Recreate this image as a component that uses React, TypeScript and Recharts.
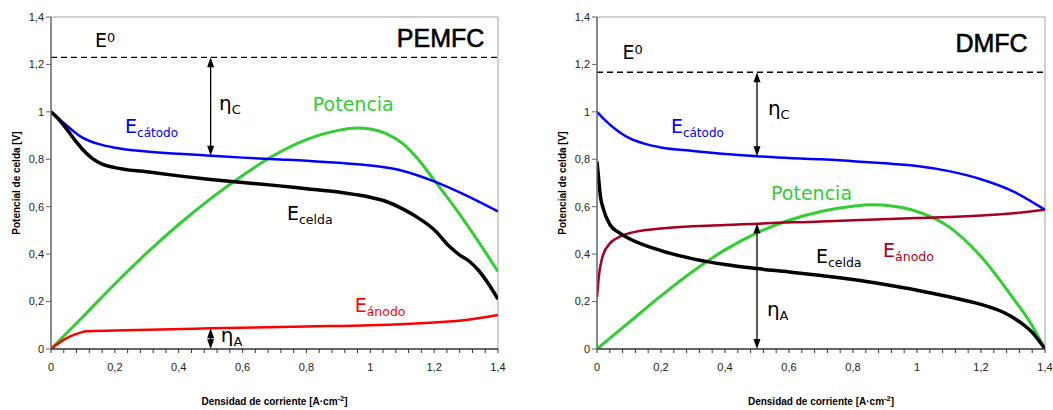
import React from 'react';
import { LineChart, Line, XAxis, YAxis, ReferenceLine, ReferenceDot } from 'recharts';

type P = [number, number];

// ---------- PEMFC ----------
const pemCathode: P[] = [
  [0, 1.0], [0.025, 0.97], [0.05, 0.942], [0.075, 0.913], [0.1, 0.89], [0.125, 0.875], [0.15, 0.864],
  [0.2, 0.849], [0.3, 0.833], [0.4, 0.823], [0.5, 0.815], [0.6, 0.807], [0.7, 0.8], [0.8, 0.794],
  [0.9, 0.785], [1.0, 0.774], [1.1, 0.752], [1.2, 0.707], [1.3, 0.648], [1.4, 0.58],
];
const pemCell: P[] = [
  [0, 1.0], [0.02, 0.975], [0.05, 0.926], [0.08, 0.872], [0.1, 0.84], [0.13, 0.803], [0.16, 0.78],
  [0.2, 0.765], [0.3, 0.747], [0.4, 0.73], [0.5, 0.715], [0.6, 0.702], [0.7, 0.69], [0.8, 0.676],
  [0.9, 0.662], [0.95, 0.652], [1.0, 0.64], [1.05, 0.622], [1.1, 0.592], [1.15, 0.553], [1.2, 0.503],
  [1.25, 0.43], [1.28, 0.396], [1.31, 0.37], [1.34, 0.33], [1.37, 0.275], [1.4, 0.21],
];
const pemPower: P[] = [
  [0, 0], [0.1, 0.136], [0.2, 0.274], [0.3, 0.405], [0.4, 0.525], [0.5, 0.634], [0.6, 0.732],
  [0.7, 0.818], [0.8, 0.883], [0.9, 0.922], [0.96, 0.932], [1.0, 0.928], [1.05, 0.908], [1.1, 0.868],
  [1.15, 0.8], [1.2, 0.712], [1.25, 0.624], [1.3, 0.53], [1.35, 0.43], [1.4, 0.327],
];
const pemAnode: P[] = [
  [0, 0], [0.03, 0.03], [0.06, 0.053], [0.09, 0.068], [0.11, 0.075], [0.2, 0.078], [0.5, 0.087],
  [0.8, 0.095], [1.0, 0.1], [1.2, 0.112], [1.3, 0.122], [1.4, 0.143],
];
const pemE0 = 1.23;
const pemCathodeAt05 = 0.815;
const pemAnodeAt05 = 0.087;

// ---------- DMFC ----------
const dmCathode: P[] = [
  [0, 1.0], [0.025, 0.965], [0.05, 0.935], [0.075, 0.91], [0.1, 0.89], [0.15, 0.865], [0.2, 0.85],
  [0.3, 0.835], [0.4, 0.822], [0.5, 0.813], [0.6, 0.805], [0.7, 0.8], [0.8, 0.792], [0.9, 0.783],
  [1.0, 0.772], [1.1, 0.75], [1.2, 0.716], [1.3, 0.665], [1.4, 0.587],
];
const dmCell: P[] = [
  [0, 0.79], [0.005, 0.72], [0.01, 0.65], [0.02, 0.59], [0.04, 0.525], [0.07, 0.49], [0.1, 0.466],
  [0.2, 0.415], [0.3, 0.38], [0.4, 0.356], [0.5, 0.339], [0.6, 0.325], [0.7, 0.31], [0.8, 0.293],
  [0.9, 0.272], [1.0, 0.248], [1.1, 0.22], [1.2, 0.188], [1.27, 0.155], [1.32, 0.115], [1.36, 0.07],
  [1.4, 0],
];
const dmPower: P[] = [
  [0, 0], [0.1, 0.112], [0.2, 0.224], [0.3, 0.328], [0.4, 0.418], [0.5, 0.49], [0.6, 0.543],
  [0.7, 0.58], [0.8, 0.602], [0.86, 0.608], [0.92, 0.603], [1.0, 0.58], [1.1, 0.515], [1.2, 0.39],
  [1.3, 0.215], [1.35, 0.12], [1.4, 0],
];
const dmAnode: P[] = [
  [0, 0.22], [0.004, 0.28], [0.008, 0.33], [0.012, 0.36], [0.02, 0.4], [0.04, 0.445], [0.07, 0.473],
  [0.1, 0.488], [0.2, 0.508], [0.4, 0.523], [0.7, 0.538], [1.0, 0.552], [1.2, 0.563], [1.3, 0.572],
  [1.4, 0.587],
];
const dmE0 = 1.167;
const dmCathodeAt05 = 0.813;
const dmAnodeAt05 = 0.53;

// ---------- axes ----------
const yTicks = [0, 0.2, 0.4, 0.6, 0.8, 1, 1.2, 1.4];
const xMajorTicks = [0, 0.2, 0.4, 0.6, 0.8, 1, 1.2, 1.4];
const xMinorStep = 0.04;
const xTicks = Array.from({ length: Math.round(1.4 / xMinorStep) + 1 }, (_, i) => +(i * xMinorStep).toFixed(2));
const xTitle = 'Densidad de corriente [A·cm';
const xTitleSup = '-2';
const xTitleEnd = ']';
const yTitle = 'Potencial de celda [V]';

const fmt = (v: number) => String(Math.round(v * 10) / 10).replace('.', ',');
const isMajor = (v: number) => xMajorTicks.some((m) => Math.abs(m - v) < 1e-6);

// ---------- annotations ----------
type Ann = { x: number; y: number; main: string; sub?: string; sup?: string; color: string; size: number; subSize?: number; kind?: 'title' };

const pemAnn: Ann[] = [
  { x: 0.138, y: 1.275, main: 'E', sup: '0', color: '#000', size: 19 },
  { x: 1.083, y: 1.275, main: 'PEMFC', color: '#000', size: 25, kind: 'title' },
  { x: 0.526, y: 1.009, main: 'η', sub: 'C', color: '#000', size: 20, subSize: 13 },
  { x: 0.82, y: 1.005, main: 'Potencia', color: '#33cc33', size: 19 },
  { x: 0.232, y: 0.912, main: 'E', sub: 'cátodo', color: '#0000ff', size: 19, subSize: 12 },
  { x: 0.739, y: 0.545, main: 'E', sub: 'celda', color: '#000', size: 19, subSize: 12.5 },
  { x: 0.951, y: 0.157, main: 'E', sub: 'ánodo', color: '#ff0000', size: 19, subSize: 12.5 },
  { x: 0.532, y: 0.031, main: 'η', sub: 'A', color: '#000', size: 20, subSize: 13 },
];
const dmAnn: Ann[] = [
  { x: 0.08, y: 1.224, main: 'E', sup: '0', color: '#000', size: 19 },
  { x: 1.12, y: 1.254, main: 'DMFC', color: '#000', size: 25, kind: 'title' },
  { x: 0.534, y: 0.988, main: 'η', sub: 'C', color: '#000', size: 20, subSize: 13 },
  { x: 0.231, y: 0.912, main: 'E', sub: 'cátodo', color: '#0000ff', size: 19, subSize: 12 },
  { x: 0.544, y: 0.63, main: 'Potencia', color: '#33cc33', size: 19 },
  { x: 0.684, y: 0.364, main: 'E', sub: 'celda', color: '#000', size: 19, subSize: 12.5 },
  { x: 0.894, y: 0.389, main: 'E', sub: 'ánodo', color: '#a50021', size: 19, subSize: 12.5 },
  { x: 0.531, y: 0.14, main: 'η', sub: 'A', color: '#000', size: 20, subSize: 13 },
];

const toData = (pts: P[]) => pts.map(([x, y]) => ({ x, y }));

const ANN_FONT = "'DejaVu Sans', Verdana, sans-serif";
const AX_FONT = "'Liberation Sans', Arial, sans-serif";

const AnnText = ({ cx, cy, a }: { cx: number; cy: number; a: Ann }) => {
  if (a.kind === 'title') {
    return (
      <text x={cx} y={cy} fill={a.color} stroke={a.color} strokeWidth={0.6} fontSize={a.size} fontFamily={AX_FONT}>
        {a.main}
      </text>
    );
  }
  return (
    <text x={cx} y={cy} fill={a.color} fontSize={a.size} fontFamily={ANN_FONT}>
      <tspan>{a.main}</tspan>
      {a.sub ? <tspan dy={4} fontSize={a.subSize}>{a.sub}</tspan> : null}
      {a.sup ? <tspan dy={-5} fontSize={13}>{a.sup}</tspan> : null}
    </text>
  );
};

const DoubleArrow = (props: any) => {
  const { x1, y1, x2, y2 } = props;
  const x = x1 ?? x2;
  const top = Math.min(y1, y2);
  const bot = Math.max(y1, y2);
  const len = bot - top;
  const h = Math.min(10, len / 2.1);
  const w = 3.5;
  return (
    <g>
      <line x1={x} y1={top + h - 1} x2={x} y2={bot - h + 1} stroke="#000" strokeWidth={1.3} />
      <polygon points={`${x},${top} ${x - w},${top + h} ${x + w},${top + h}`} fill="#000" />
      <polygon points={`${x},${bot} ${x - w},${bot - h} ${x + w},${bot - h}`} fill="#000" />
    </g>
  );
};

type Cfg = {
  cathode: P[]; cell: P[]; power: P[]; anode: P[]; anodeColor: string;
  e0: number; cathodeAt05: number; anodeAt05: number; ann: Ann[];
  yAxisWidth: number; marginRight: number;
};

const Panel = ({ c }: { c: Cfg }) => (
  <LineChart width={520} height={410} margin={{ top: 17, right: c.marginRight, bottom: 0, left: 0 }}>
    <XAxis
      type="number"
      dataKey="x"
      domain={[0, 1.4]}
      ticks={xTicks}
      interval={0}
      tickFormatter={(v: number) => (isMajor(v) ? fmt(v) : '')}
      tickSize={4}
      tickMargin={10}
      height={61}
      axisLine={{ stroke: '#333', strokeWidth: 1.5 }}
      tickLine={{ stroke: '#333', strokeWidth: 1 }}
      tick={{ fontSize: 11, fill: '#222', fontFamily: AX_FONT }}
      allowDataOverflow
      label={(p: any) => {
        const vb = p.viewBox;
        return (
          <text x={vb.x + vb.width / 2} y={vb.y + 56} textAnchor="middle" fontSize={10} fontWeight="bold" fontFamily={AX_FONT} fill="#000">
            {xTitle}
            <tspan dy={-4} fontSize={7.5}>{xTitleSup}</tspan>
            <tspan dy={4}>{xTitleEnd}</tspan>
          </text>
        );
      }}
    />
    <YAxis
      type="number"
      domain={[0, 1.4]}
      ticks={yTicks}
      interval={0}
      tickFormatter={fmt}
      width={c.yAxisWidth}
      tickSize={5}
      axisLine={{ stroke: '#666', strokeWidth: 1.5 }}
      tickLine={{ stroke: '#666', strokeWidth: 1 }}
      tick={{ fontSize: 11, fill: '#222', fontFamily: AX_FONT }}
      allowDataOverflow
      label={(p: any) => {
        const vb = p.viewBox;
        const cx = vb.x + vb.width - 35;
        const cy = vb.y + vb.height / 2;
        return (
          <text x={cx} y={cy} transform={`rotate(-90 ${cx} ${cy})`} textAnchor="middle" dominantBaseline="central" fontSize={10} fontWeight="bold" fontFamily={AX_FONT} fill="#000">
            {yTitle}
          </text>
        );
      }}
    />
    <ReferenceLine y={1.4} stroke="#c0c0c0" strokeWidth={1.5} />
    <ReferenceLine x={1.4} stroke="#c0c0c0" strokeWidth={1.5} />
    <ReferenceLine y={c.e0} stroke="#000" strokeWidth={1.3} strokeDasharray="6 4" />
    <Line data={toData(c.power)} dataKey="y" type="monotone" stroke="#33cc33" strokeWidth={3} dot={false} isAnimationActive={false} />
    <Line data={toData(c.anode)} dataKey="y" type="monotone" stroke={c.anodeColor} strokeWidth={2.5} dot={false} isAnimationActive={false} />
    <Line data={toData(c.cathode)} dataKey="y" type="monotone" stroke="#0000ff" strokeWidth={2.5} dot={false} isAnimationActive={false} />
    <Line data={toData(c.cell)} dataKey="y" type="monotone" stroke="#000" strokeWidth={3.5} dot={false} isAnimationActive={false} />
    <ReferenceLine segment={[{ x: 0.5, y: c.e0 }, { x: 0.5, y: c.cathodeAt05 }]} shape={(p: any) => <DoubleArrow {...p} />} />
    <ReferenceLine segment={[{ x: 0.5, y: c.anodeAt05 }, { x: 0.5, y: 0 }]} shape={(p: any) => <DoubleArrow {...p} />} />
    {c.ann.map((a, i) => (
      <ReferenceDot key={i} x={a.x} y={a.y} r={0} ifOverflow="visible" shape={(p: any) => <AnnText cx={p.cx} cy={p.cy} a={a} />} />
    ))}
  </LineChart>
);

const pemCfg: Cfg = {
  cathode: pemCathode, cell: pemCell, power: pemPower, anode: pemAnode, anodeColor: '#ff0000',
  e0: pemE0, cathodeAt05: pemCathodeAt05, anodeAt05: pemAnodeAt05, ann: pemAnn, yAxisWidth: 51, marginRight: 22,
};
const dmCfg: Cfg = {
  cathode: dmCathode, cell: dmCell, power: dmPower, anode: dmAnode, anodeColor: '#a50021',
  e0: dmE0, cathodeAt05: dmCathodeAt05, anodeAt05: dmAnodeAt05, ann: dmAnn, yAxisWidth: 64, marginRight: 8,
};

export default function App() {
  return (
    <div style={{ position: 'absolute', left: 0, top: 0, width: 1053, height: 410, background: '#fff' }}>
      <div style={{ position: 'absolute', left: 0, top: 0 }}>
        <Panel c={pemCfg} />
      </div>
      <div style={{ position: 'absolute', left: 533, top: 0 }}>
        <Panel c={dmCfg} />
      </div>
    </div>
  );
}
